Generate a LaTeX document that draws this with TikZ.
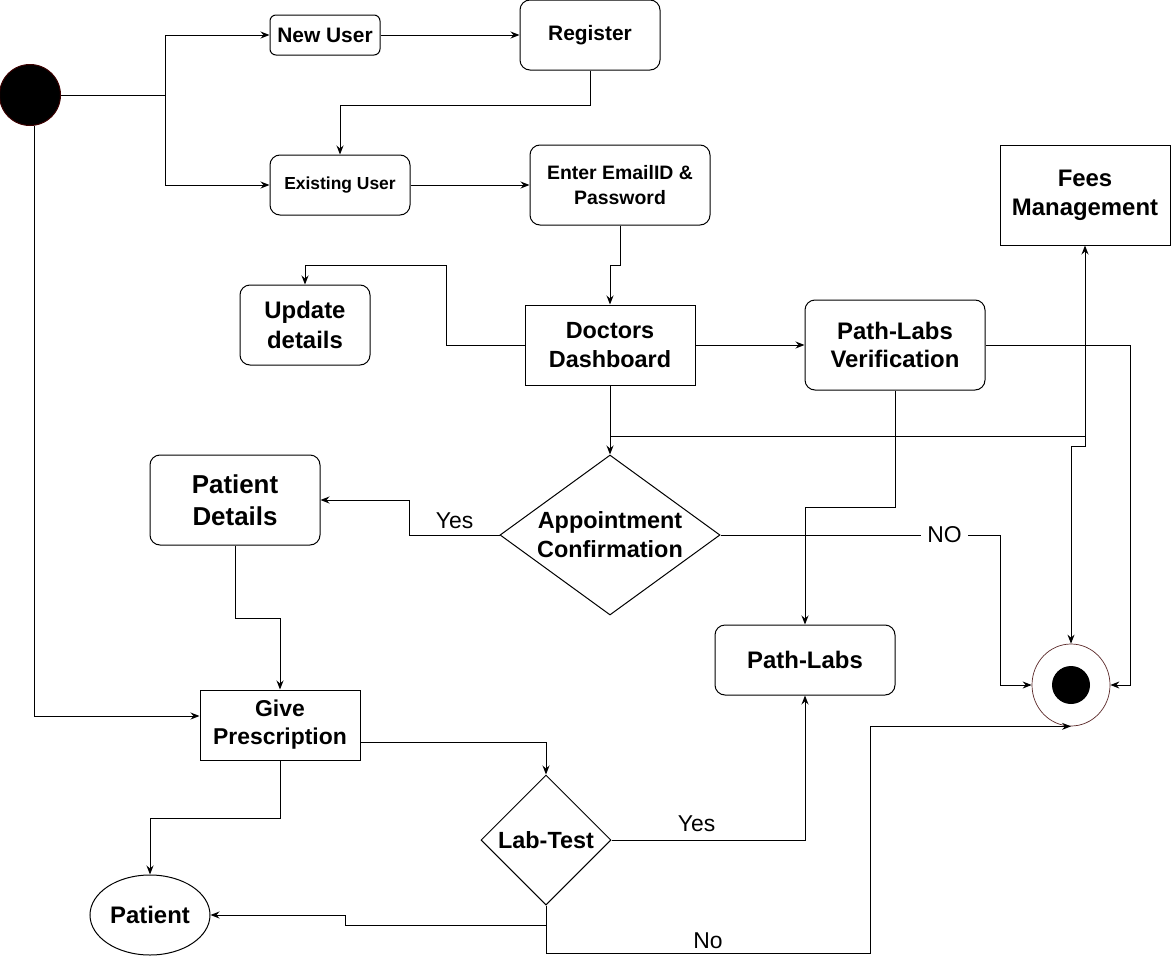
\documentclass[tikz,border=0pt]{standalone}
\usepackage{fontspec}
\setmainfont{Liberation Sans}
\usetikzlibrary{shapes.geometric,arrows.meta}
\definecolor{startrim}{RGB}{60,0,0}
\definecolor{endrim}{RGB}{90,40,40}

\begin{document}
\begin{tikzpicture}[x=1bp, y=-1bp, line width=1bp,
    every node/.style={inner sep=0pt, align=center},
    fs/.style 2 args={font=\bfseries\fontsize{#1}{#2}\selectfont},
    act/.style={draw, rounded corners=10bp},
    blk/.style={draw},
    choice/.style={draw, diamond},
    lbl/.style={font=\fontsize{23}{26}\selectfont},
    arr/.style={-{Stealth[length=9bp, width=7bp, inset=3bp]}}]
    \useasboundingbox (0,0) rectangle (1172,966);

    % Start and end
    \node[circle, draw=startrim, fill=black, minimum size=61bp] (start) at (30,95) {};
    \node[ellipse, draw=endrim, line width=0.7bp, minimum width=78bp, minimum height=82bp] (endc) at (1071,685) {};
    \node[circle, fill=black, minimum size=38bp] (enddot) at (endc) {};

    % Login
    \node[act, rounded corners=6bp, minimum width=110bp, minimum height=40bp, fs={21}{25}] (newu) at (325,35) {New User};
    \node[act, minimum width=140bp, minimum height=70bp, fs={21}{25}] (reg) at (590,35) {Register};
    \node[act, minimum width=140bp, minimum height=60bp, fs={17.5}{21}] (exist) at (340,185) {Existing User};
    \node[act, minimum width=180bp, minimum height=80bp, fs={19.5}{25}] (email) at (620,185) {Enter EmailID \&\\Password};

    % Dashboard row
    \node[act, minimum width=130bp, minimum height=80bp, fs={24}{31}] (upd) at (305,325) {Update\\details};
    \node[blk, minimum width=170bp, minimum height=80bp, fs={23.5}{29}] (dash) at (610,345) {Doctors\\Dashboard};
    \node[act, minimum width=180bp, minimum height=90bp, fs={24}{29}] (plv) at (895,345) {Path-Labs\\Verification};
    \node[blk, minimum width=170bp, minimum height=100bp, fs={24}{29}] (fees) at (1085,195) {Fees\\Management};

    % Appointment
    \node[choice, aspect=1.375, minimum width=220bp, minimum height=160bp, fs={23.5}{29}] (appt) at (610,535) {Appointment\\Confirmation};
    \node[act, minimum width=170bp, minimum height=90bp, fs={26}{32}] (pdet) at (235,500) {Patient\\Details};
    \node[act, minimum width=180bp, minimum height=70bp, fs={24}{28}] (plab) at (805,660) {Path-Labs};

    % Prescription
    \node[blk, minimum width=160bp, minimum height=70bp, fs={23}{28}] (give) at (280,725) {Give\\Prescription};
    \node[choice, minimum width=130bp, minimum height=130bp, fs={23.5}{27}] (lab) at (546,840) {Lab-Test};
    \node[ellipse, draw, minimum width=120bp, minimum height=80bp, fs={24}{28}] (pat) at (150,915) {Patient};

    % Connections from start
    \coordinate (fork) at (165,95);
    \draw (start) -- (fork);
    \draw[arr] (fork) |- (newu);
    \draw[arr] (fork) |- (exist);
    \draw[arr] (newu) -- (reg);
    \draw[arr] (reg.south) -- ++(0,35) -| (exist.north);
    \draw[arr] (exist) -- (email);
    \draw[arr] (email.south) -- ++(0,40) -| (dash.north);
    \draw[arr] ([xshift=4bp]start.south) |- ([yshift=9bp]give.west);

    % Connections from dashboard
    \draw[arr] (dash.west) -- ++(-78,0) -- ++(0,-80) -| (upd.north);
    \draw[arr] (dash) -- (plv);
    \draw[arr] (dash) -- (appt);
    \coordinate (tap) at (610,436);
    \draw[arr] (tap) -| (fees.south);
    \draw[arr] (fees.south |- tap) -- ++(0,10) -| (endc.north);
    \draw[arr] (plv.east) -- ++(145,0) |- (endc.east);
    \draw[arr] (plv.south) -- ++(0,117) -| (plab.north);

    % Decisions
    \draw[arr] (appt.west) -- ++(-90,0) node[lbl, midway, above=6bp] {Yes} |- (pdet.east);
    \draw[arr] (appt.east) -- ++(280,0) node[lbl, pos=0.8, fill=white, inner xsep=6bp] {NO} |- (endc.west);
    \draw[arr] (pdet.south) -- ++(0,73) -| (give.north);
    \draw[arr] ([yshift=-17bp]give.east) -| (lab.north);
    \draw[arr] (give.south) -- ++(0,58) -| (pat.north);
    \draw[arr] (lab.east) -| node[lbl, pos=0.22, above=8bp] {Yes} (plab.south);
    \draw[arr] (lab.south) -- ++(0,20) -- ++(-201,0) |- (pat.east);
    \draw[arr] (lab.south) -- ++(0,48) -- ++(324,0) node[lbl, midway, above=4bp] {No} |- (endc.south);
\end{tikzpicture}
\end{document}
